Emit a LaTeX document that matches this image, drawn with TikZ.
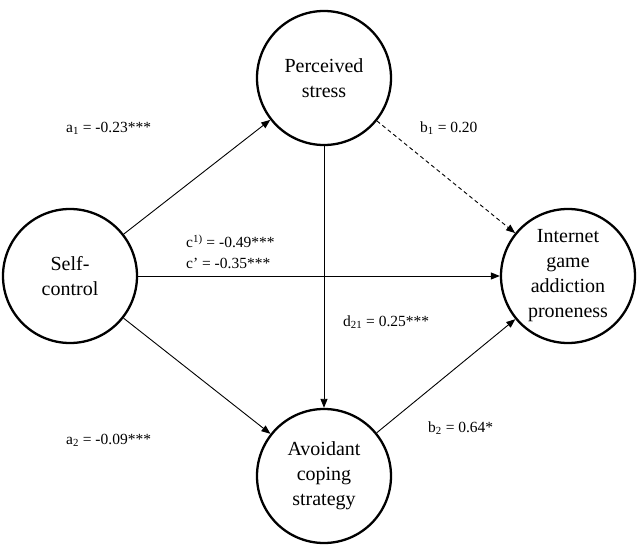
\documentclass[tikz,border=0pt]{standalone}
\usepackage{fontspec}
\setmainfont{Liberation Serif}
\usetikzlibrary{arrows.meta}
\begin{document}
\begin{tikzpicture}[x=1pt,y=-1pt,
  var/.style={circle,draw,line width=2.3pt,minimum size=134pt,inner sep=0pt,align=center,font=\fontsize{20}{25}\selectfont},
  path/.style={line width=0.9pt,-{Triangle[length=9pt,width=7pt]}},
  lbl/.style={font=\fontsize{15.5}{20}\selectfont,inner sep=0pt}]
\useasboundingbox (0,0) rectangle (638,553);
\node[var] (ps) at (324,78) {Perceived\\stress};
\node[var] (sc) at (70,276) {Self-\\control};
\node[var] (ig) at (568,276) {Internet\\game\\addiction\\proneness};
\node[var] (ac) at (324,476) {Avoidant\\coping\\strategy};
\draw[path] (sc) -- (ps);
\draw[path] (sc) -- (ig);
\draw[path] (sc) -- (ac);
\draw[path] (ps) -- (ac);
\draw[path,dashed,dash pattern=on 4pt off 3pt] (ps) -- (ig);
\draw[path] (ac) -- (ig);
\node[lbl,anchor=west] (la1) at (66,128) {a\textsubscript{1} = -0.23***};
\node[lbl,anchor=west] (la2) at (66,440) {a\textsubscript{2} = -0.09***};
\node[lbl,anchor=west] (lc1) at (186,241) {c\textsuperscript{1)} = -0.49***};
\node[lbl,anchor=west] (lc2) at (186,263) {c’ = -0.35***};
\node[lbl,anchor=west] (lb1) at (420,128) {b\textsubscript{1} = 0.20};
\node[lbl,anchor=west] (ld) at (343,322) {d\textsubscript{21} = 0.25***};
\node[lbl,anchor=west] (lb2) at (428,428) {b\textsubscript{2} = 0.64*};
\end{tikzpicture}
\end{document}
